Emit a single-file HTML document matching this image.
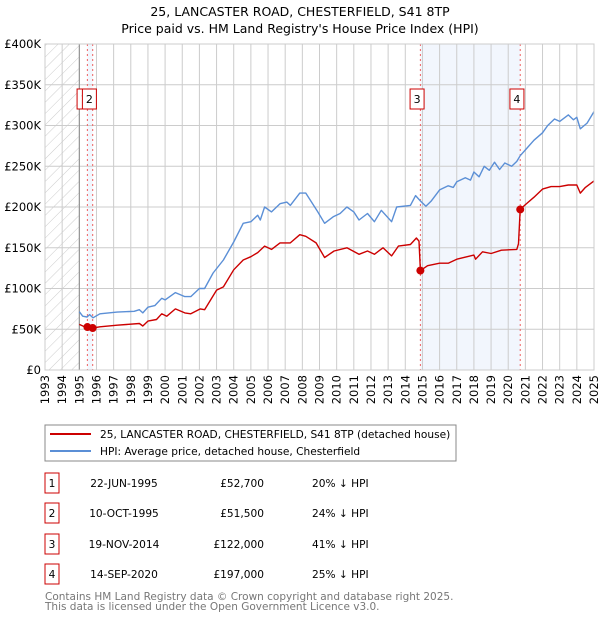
<!DOCTYPE html>
<html><head><meta charset="utf-8"><style>
body{margin:0;background:#fff;}
svg{display:block;font-family:"DejaVu Sans","Liberation Sans",sans-serif;}
</style></head><body>
<svg id="chart" width="600" height="620" viewBox="0 0 600 620">
<defs>
<pattern id="hatch" width="8" height="8" patternUnits="userSpaceOnUse" patternTransform="rotate(45)">
<line x1="0" y1="0" x2="0" y2="8" stroke="#ccc" stroke-width="1"/>
</pattern>
</defs>
<text x="300" y="16" text-anchor="middle" font-size="12.5" fill="#000">25, LANCASTER ROAD, CHESTERFIELD, S41 8TP</text>
<text x="300" y="33" text-anchor="middle" font-size="12.5" fill="#000">Price paid vs. HM Land Registry's House Price Index (HPI)</text>
<g id="plot"></g>
<g>
<rect x="45" y="425" width="411" height="36" fill="#fff" stroke="#888"/>
<line x1="50" y1="434" x2="91" y2="434" stroke="#cc0000" stroke-width="2"/>
<text x="100" y="438" font-size="10.6">25, LANCASTER ROAD, CHESTERFIELD, S41 8TP (detached house)</text>
<line x1="50" y1="451" x2="91" y2="451" stroke="#5b8fd6" stroke-width="2"/>
<text x="100" y="455" font-size="10.6">HPI: Average price, detached house, Chesterfield</text>
</g>
<g id="table" font-size="10.6"></g>
<text x="45" y="600" font-size="10.5" fill="#777">Contains HM Land Registry data © Crown copyright and database right 2025.</text>
<text x="45" y="610" font-size="10.5" fill="#777">This data is licensed under the Open Government Licence v3.0.</text>
</svg>
<script>
const hpiYears=[1995.0,1995.2,1995.45,1995.6,1995.8,1996.2,1997.2,1998.2,1998.5,1998.7,1999.0,1999.4,1999.8,2000.0,2000.6,2001.15,2001.5,2002.0,2002.3,2002.8,2003.4,2004.0,2004.55,2005.0,2005.4,2005.55,2005.8,2006.2,2006.7,2007.1,2007.3,2007.85,2008.2,2008.6,2008.9,2009.3,2009.8,2010.2,2010.6,2011.0,2011.3,2011.8,2012.2,2012.6,2013.2,2013.5,2014.3,2014.6,2014.9,2015.2,2015.5,2016.0,2016.5,2016.8,2017.0,2017.5,2017.8,2018.0,2018.3,2018.6,2018.9,2019.2,2019.5,2019.8,2020.2,2020.5,2020.7,2021.0,2021.5,2022.0,2022.3,2022.7,2023.0,2023.5,2023.8,2024.0,2024.2,2024.6,2025.0];
const hpiValues=[71.5,66,65,68,64,69,71,72,74,70,77,79,88,86,95,90,90,100,100,119,135,157,180,182,190,184,200,194,204,206,202,217,217,204,194,180,188,192,200,194,184,192,182,196,182,200,202,214,207,201,207,221,226,224,231,236,233,243,237,250,245,255,246,254,250,256,263,270,282,291,300,308,305,313,307,310,296,303,317];
const redYears=[1995.0,1995.3,1995.47,1995.78,1996.2,1997.2,1998.5,1998.7,1999.0,1999.5,1999.8,2000.1,2000.6,2001.15,2001.5,2002.05,2002.3,2003.0,2003.4,2004.0,2004.55,2005.0,2005.4,2005.8,2006.2,2006.7,2007.3,2007.85,2008.2,2008.8,2009.3,2009.85,2010.6,2011.3,2011.8,2012.2,2012.7,2013.2,2013.6,2014.3,2014.65,2014.8,2014.88,2015.3,2016.0,2016.5,2017.0,2018.0,2018.1,2018.5,2019.0,2019.6,2020.5,2020.6,2020.7,2021.0,2021.5,2022.0,2022.5,2023.0,2023.5,2024.0,2024.2,2024.5,2025.0];
const redValues=[56,53,52.7,51.5,53,55,57,54,60,62,69,66,75,70,69,75,74,98,102,123,135,139,144,152,148,156,156,166,164,156,138,146,150,142,146,142,150,140,152,154,162,158,122,128,131,131,136,141,136,145,143,147,148,155,197,203,212,222,225,225,227,227,217,224,232];
const saleLabels=["1","2","3","4"];
const saleYears=[1995.47,1995.78,2014.88,2020.70];
const salePrices=[52.7,51.5,122,197];
const saleDates=["22-JUN-1995","10-OCT-1995","19-NOV-2014","14-SEP-2020"];
const salePriceText=["£52,700","£51,500","£122,000","£197,000"];
const saleDiffText=["20% ↓ HPI","24% ↓ HPI","41% ↓ HPI","25% ↓ HPI"];
const yTicks=[0,50,100,150,200,250,300,350,400];
const yTickLabels=["£0","£50K","£100K","£150K","£200K","£250K","£300K","£350K","£400K"];
const xStart=1993,xEnd=2025;

const NS="http://www.w3.org/2000/svg";
const L=45,R=594,T=44,B=370;
function X(y){return L+(y-xStart)/(xEnd-xStart)*(R-L);}
function Y(v){return B-v/400*(B-T);}
function mk(tag,attrs,parent){const e=document.createElementNS(NS,tag);for(const k in attrs)e.setAttribute(k,attrs[k]);parent.appendChild(e);return e;}
const plot=document.getElementById('plot');

let h=mk('rect',{x:L,y:T,width:X(1995)-L,height:B-T,fill:'url(#hatch)'},plot);


let b1=mk('rect',{x:X(saleYears[0]),y:T,width:X(saleYears[1])-X(saleYears[0]),height:B-T,fill:'#f2f6fd'},plot);


let b2=mk('rect',{x:X(saleYears[2]),y:T,width:X(saleYears[3])-X(saleYears[2]),height:B-T,fill:'#f2f6fd'},plot);



for(let yr=xStart;yr<=xEnd;yr++){
  const g=mk('line',{x1:X(yr),x2:X(yr),y1:T,y2:B,stroke:'#ccc','stroke-width':1},plot);
  
  
  const t=mk('text',{x:0,y:0,'font-size':11.5,'text-anchor':'end',transform:`translate(${X(yr)+4},${B+5}) rotate(-90)`},plot);
  t.textContent=yr;
  
  
}
yTicks.forEach((v,i)=>{
  const g=mk('line',{x1:L,x2:R,y1:Y(v),y2:Y(v),stroke:'#ccc','stroke-width':1},plot);
  
  
  const t=mk('text',{x:41,y:Y(v)+4,'font-size':11.5,'text-anchor':'end'},plot);
  t.textContent=yTickLabels[i];
  
  
});
let ax=mk('line',{x1:X(1995),x2:X(1995),y1:T,y2:B,stroke:'#888','stroke-width':1},plot);



saleYears.forEach((yr,i)=>{
  const l=mk('line',{x1:X(yr),x2:X(yr),y1:T,y2:B,stroke:'#f06060','stroke-width':1,'stroke-dasharray':'2,3'},plot);
  
  
});

function path(xs,vs,color,name){
  let d='';xs.forEach((x,i)=>{d+=(i?'L':'M')+X(x).toFixed(1)+','+Y(vs[i]).toFixed(1);});
  const p=mk('path',{d:d,fill:'none',stroke:color,'stroke-width':1.4,'stroke-linejoin':'round'},plot);
  
  
}
path(hpiYears,hpiValues,'#5b8fd6','hpi-line');
path(redYears,redValues,'#cc0000','price-paid-line');

saleYears.forEach((yr,i)=>{
  const c=mk('circle',{cx:X(yr),cy:Y(salePrices[i]),r:4,fill:'#cc0000'},plot);
  
  
});
saleYears.forEach((yr,i)=>{
  const cx=X(yr)-3.3;
  const r=mk('rect',{x:cx-7,y:89,width:14,height:20,fill:'#fff',stroke:'#cc0000','stroke-width':1},plot);
  
  
  const t=mk('text',{x:cx,y:103,'font-size':11,'text-anchor':'middle'},plot);
  t.textContent=saleLabels[i];
  
  
});
let frame=mk('rect',{x:L,y:T,width:R-L,height:B-T,fill:'none',stroke:'#ccc'},plot);



const tbl=document.getElementById('table');
const rowY=[482,512,543,573];
saleLabels.forEach((lab,i)=>{
  const y=rowY[i];
  const r=mk('rect',{x:45,y:y-9,width:14,height:20,fill:'#fff',stroke:'#cc0000'},tbl);
  
  
  const items=[[52,lab,'middle','table-row-number'],[124,saleDates[i],'middle','table-row-date'],[264,salePriceText[i],'end','table-row-price'],[312,saleDiffText[i],'start','table-row-diff']];
  items.forEach(it=>{
    const t=mk('text',{x:it[0],y:y+5,'text-anchor':it[2]},tbl);
    t.textContent=it[1];
    
    
  });
});
</script>
</body></html>
